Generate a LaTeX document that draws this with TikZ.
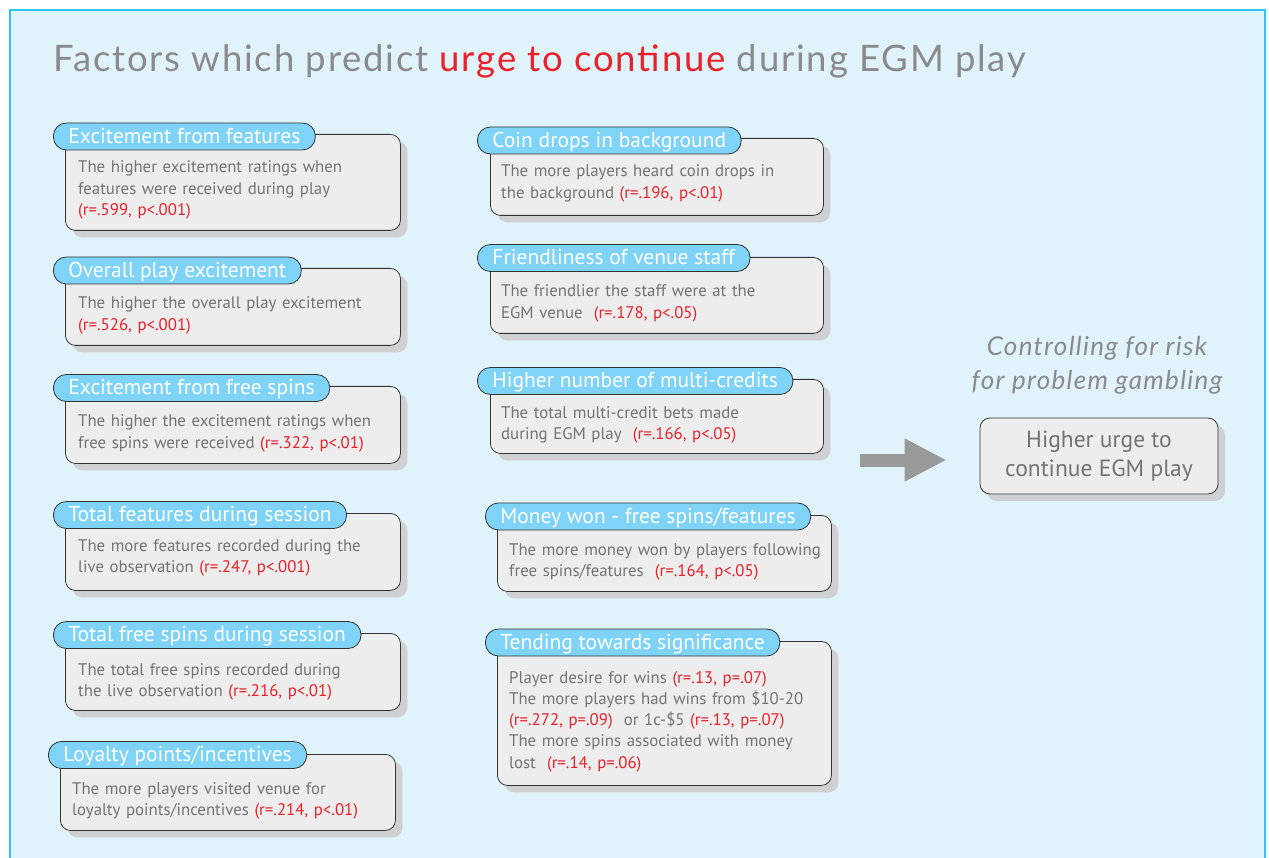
\documentclass[tikz,border=0pt]{standalone}
\usepackage{fontspec}
\setmainfont{PT Sans}
\newfontfamily\titlefont[LetterSpace=5]{Lato}
\usetikzlibrary{shadows,arrows.meta}
\definecolor{panelbg}{HTML}{E0F3FA}
\definecolor{panelline}{HTML}{2CC6EF}
\definecolor{tabblue}{HTML}{7FD3F7}
\definecolor{boxgrey}{HTML}{EDEDED}
\definecolor{textgrey}{HTML}{737373}
\definecolor{titlegrey}{HTML}{8A8A8C}
\definecolor{urgered}{HTML}{E8212B}
\definecolor{shadowgrey}{HTML}{CFD0D1}
\definecolor{arrowgrey}{HTML}{999999}
\newcommand{\pval}[1]{\textcolor{urgered}{#1}}
\tikzset{
  factbox/.style={draw=black!80, line width=0.8pt, fill=boxgrey, rounded corners=10pt, anchor=north west, inner sep=0pt,
    drop shadow={shadow xshift=7pt, shadow yshift=-7pt, fill=shadowgrey, opacity=1}},
  facttab/.style={draw=black!80, line width=0.8pt, fill=tabblue, rounded corners=13pt, anchor=west, minimum height=27pt,
    inner xsep=15pt, inner ysep=0pt, text height=15pt, text depth=1.5pt, text=white, font=\fontsize{21.5}{24}\selectfont},
  facttext/.style={anchor=base west, align=left, inner sep=0pt, text=textgrey, text width=330pt, font=\fontsize{16.8}{21.3}\selectfont},
}

\begin{document}
\begin{tikzpicture}[x=1pt, y=-1pt]
  \useasboundingbox (0,0) rectangle (1269,858);
  % panel
  \fill[panelbg] (10,10) rectangle (1265,858);
  \draw[panelline, line width=1.5pt] (10,858) -- (10,10) -- (1265,10) -- (1265,858);
  \node[anchor=base west, inner sep=0pt, text=titlegrey, font=\titlefont\fontsize{36.5}{40}\selectfont] (title) at (53,72)
    {Factors which predict \textcolor{urgered}{urge to continue} during EGM play};

  % left column
  \node[factbox, minimum width=335, minimum height=96] (body1) at (65,134) {};
  \node[facttab] (tab1) at (53,136.5) {Excitement from features};
  \node[facttext] (text1) at (78,173) {The higher excitement ratings when\\features were received during play\\\pval{(r=.599, p<.001)}};

  \node[factbox, minimum width=335, minimum height=77] (body2) at (65,268) {};
  \node[facttab] (tab2) at (53,270.5) {Overall play excitement};
  \node[facttext] (text2) at (78,309) {The higher the overall play excitement\\\pval{(r=.526, p<.001)}};

  \node[factbox, minimum width=335, minimum height=77] (body3) at (65,386) {};
  \node[facttab] (tab3) at (53,388) {Excitement from free spins};
  \node[facttext] (text3) at (78,427) {The higher the excitement ratings when\\free spins were received \pval{(r=.322, p<.01)}};

  \node[factbox, minimum width=335, minimum height=77] (body4) at (65,513) {};
  \node[facttab] (tab4) at (53,515) {Total features during session};
  \node[facttext] (text4) at (78,551) {The more features recorded during the\\live observation \pval{(r=.247, p<.001)}};

  \node[factbox, minimum width=335, minimum height=77] (body5) at (65,633) {};
  \node[facttab] (tab5) at (53,635) {Total free spins during session};
  \node[facttext] (text5) at (78,675) {The total free spins recorded during\\the live observation \pval{(r=.216, p<.01)}};

  \node[factbox, minimum width=335, minimum height=76] (body6) at (60,754) {};
  \node[facttab] (tab6) at (48,755) {Loyalty points/incentives};
  \node[facttext] (text6) at (72,794) {The more players visited venue for\\loyalty points/incentives \pval{(r=.214, p<.01)}};

  % middle column
  \node[factbox, minimum width=333, minimum height=77] (body7) at (490,138) {};
  \node[facttab] (tab7) at (477,140.5) {Coin drops in background};
  \node[facttext] (text7) at (501,177) {The more players heard coin drops in\\the background \pval{(r=.196, p<.01)}};

  \node[factbox, minimum width=333, minimum height=76] (body8) at (490,257) {};
  \node[facttab] (tab8) at (477,258) {Friendliness of venue staff};
  \node[facttext] (text8) at (501,297) {The friendlier the staff were at the\\EGM venue~~\pval{(r=.178, p<.05)}};

  \node[factbox, minimum width=333, minimum height=74] (body9) at (490,379) {};
  \node[facttab] (tab9) at (477,381) {Higher number of multi-credits};
  \node[facttext] (text9) at (501,418) {The total multi-credit bets made\\during EGM play~~\pval{(r=.166, p<.05)}};

  \node[factbox, minimum width=334, minimum height=76] (body10) at (497,515) {};
  \node[facttab] (tab10) at (485,516.5) {Money won - free spins/features};
  \node[facttext] (text10) at (509,555) {The more money won by players following\\free spins/features~~\pval{(r=.164, p<.05)}};

  \node[factbox, minimum width=334, minimum height=144] (body11) at (497,641) {};
  \node[facttab] (tab11) at (485,642.5) {Tending towards significance};
  \node[facttext] (text11) at (509,683) {Player desire for wins \pval{(r=.13, p=.07)}\\The more players had wins from \$10-20\\\pval{(r=.272, p=.09)}~~or 1c-\$5 \pval{(r=.13, p=.07)}\\The more spins associated with money\\lost~~\pval{(r=.14, p=.06)}};

  % outcome
  \node[anchor=base, align=center, inner sep=0pt, text=titlegrey, font=\titlefont\itshape\fontsize{26}{34}\selectfont] (control) at (1097,389)
    {Controlling for risk\\for problem gambling};
  \node[factbox, anchor=center, minimum width=238, minimum height=76, align=center, text=textgrey, font=\fontsize{23.5}{29}\selectfont] (result) at (1099,456)
    {Higher urge to\\continue EGM play};
  \coordinate (arrowstart) at (860,460);
  \draw[arrowgrey, line width=13pt, -{Triangle[length=42pt, width=40pt]}] (arrowstart) -- ([xshift=-33pt, yshift=-4pt]result.west);
\end{tikzpicture}
\end{document}
